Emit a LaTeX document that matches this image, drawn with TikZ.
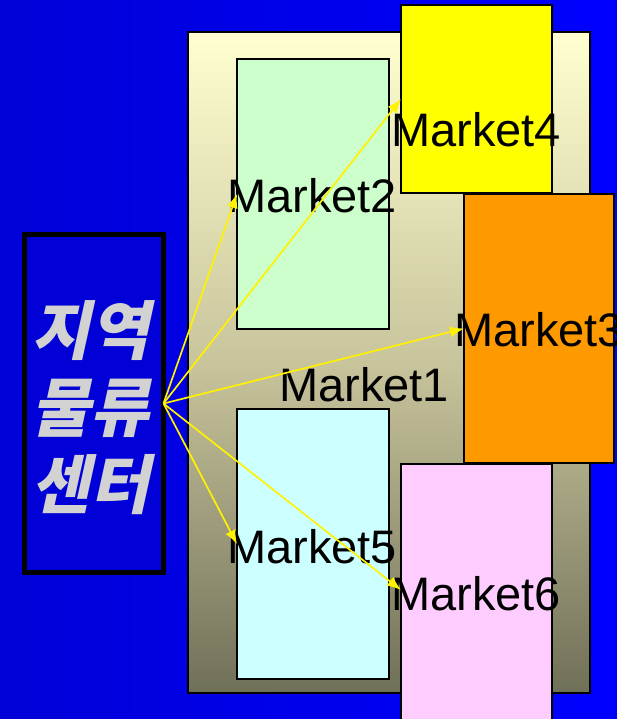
\documentclass[tikz,border=0pt]{standalone}
\usepackage{fontspec}
\setmainfont{Liberation Sans}
\newfontfamily\krfont[FakeSlant=0.22]{Noto Sans CJK KR}
\usetikzlibrary{arrows.meta}
\definecolor{bgdark}{RGB}{0,0,215}
\definecolor{bglight}{RGB}{0,0,255}
\definecolor{mtop}{RGB}{255,255,208}
\definecolor{mmid}{RGB}{200,196,156}
\definecolor{mbot}{RGB}{112,112,88}
\definecolor{mgreen}{RGB}{204,255,204}
\definecolor{mcyan}{RGB}{204,255,255}
\definecolor{myellow}{RGB}{255,255,0}
\definecolor{morange}{RGB}{255,153,0}
\definecolor{mpink}{RGB}{255,204,255}
\definecolor{krgray}{RGB}{210,210,210}
\tikzset{
  mbox/.style={draw=black, line width=1.8pt, inner sep=0pt, outer sep=0pt},
  mlabel/.style={text=black, inner sep=0pt, font=\fontsize{47}{50}\selectfont},
  flow/.style={draw=yellow, line width=1.7pt, -{Latex[length=14pt,width=11pt]}}
}
\begin{document}
\begin{tikzpicture}[x=1pt,y=-1pt]
\useasboundingbox (0,0) rectangle (617,719);
\shade[left color=bgdark, right color=bglight] (0,0) rectangle (617,719);
% main market area
\node[mbox, minimum width=402pt, minimum height=661pt, top color=mtop, bottom color=mbot, middle color=mmid] (big) at (389,362.5) {};
\node[mbox, fill=mgreen, minimum width=152pt, minimum height=270pt] (m2) at (313,194) {};
\node[mbox, fill=mcyan, minimum width=152pt, minimum height=270pt] (m5) at (313,544) {};
\node[mbox, fill=myellow, minimum width=151pt, minimum height=188pt] (m4) at (476.5,99) {};
\node[mbox, fill=morange, minimum width=150pt, minimum height=269pt] (m3) at (539,328.5) {};
\node[mbox, fill=mpink, minimum width=151pt, minimum height=280pt] (m6) at (476.5,604) {};
% center box
\node[draw=black, line width=5pt, fill=bgdark, minimum width=139pt, minimum height=338pt, inner sep=0pt, outer sep=0pt] (src) at (94,403.5) {};
\node[text=krgray, align=center, inner sep=0pt, font=\krfont\bfseries\fontsize{64}{77}\selectfont] (srctext) at (90,408) {지역\\물류\\센터};
% labels
\node[mlabel] (l2) at (312,196) {Market2};
\node[mlabel] (l4) at (476,130) {Market4};
\node[mlabel] (l3) at (539,330) {Market3};
\node[mlabel] (l1) at (364,385) {Market1};
\node[mlabel] (l5) at (312,547) {Market5};
\node[mlabel] (l6) at (476,594) {Market6};
\coordinate (m6in) at (401,590);
% arrows
\draw[flow] (src.east) -- (m2.west);
\draw[flow] (src.east) -- (m4.west);
\draw[flow] (src.east) -- (m3.west);
\draw[flow] (src.east) -- (m5.west);
\draw[flow] (src.east) -- (m6in);
\end{tikzpicture}
\end{document}
